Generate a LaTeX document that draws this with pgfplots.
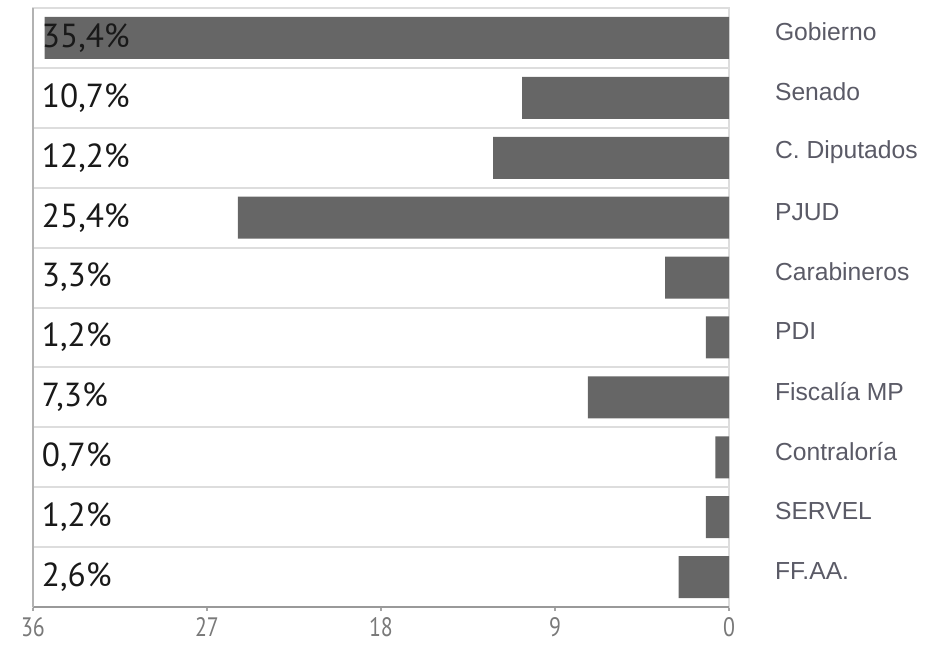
\documentclass[border=0pt]{standalone}
\usepackage{pgfplots}
\pgfplotsset{compat=1.18}
\usepackage{pgfplotstable}
\usepackage{fontspec}
\setmainfont{Liberation Sans}
\newfontfamily\catfont{Liberation Sans}
\newfontfamily\pctfont{PT Sans}
\newfontfamily\tickfont[FakeStretch=0.82]{PT Sans}
\definecolor{barc}{HTML}{666666}
\definecolor{catc}{HTML}{5A5A66}
\definecolor{sepc}{HTML}{DDDDDD}
\pgfplotstableread{
idx val px lab
0 35.4 35.55 35,4\%
1 10.7 35.55 10,7\%
2 12.2 35.55 12,2\%
3 25.4 35.55 25,4\%
4 3.3 35.55 3,3\%
5 1.2 35.55 1,2\%
6 7.3 35.55 7,3\%
7 0.7 35.55 0,7\%
8 1.2 35.55 1,2\%
9 2.6 35.55 2,6\%
}\datatable
\begin{document}
\begin{tikzpicture}[x=1pt,y=1pt]
\path[use as bounding box] (0,0) rectangle (708,483);
\begin{axis}[
  at={(24.75pt,27.75pt)}, anchor=south west,
  scale only axis, width=522pt, height=449.25pt,
  x dir=reverse, y dir=reverse,
  xmin=0, xmax=36, ymin=-0.5, ymax=9.5,
  xtick={0,9,18,27,36},
  xtick pos=bottom,
  tick align=outside, major tick length=3pt,
  xtick style={draw=gray!70, line width=0.8pt},
  ytick={0,...,9},
  yticklabels={Gobierno,Senado,C. Diputados,PJUD,Carabineros,PDI,Fiscalía MP,Contraloría,SERVEL,FF.AA.},
  yticklabel pos=right,
  ytick style={draw=none},
  yticklabel style={anchor=west, font=\catfont\fontsize{18.5}{18.5}\selectfont, text=catc, xshift=28pt, yshift=4.5pt},
  xticklabel style={font=\tickfont\fontsize{20}{20}\selectfont, text=gray!95!black, yshift=-1pt},
  /pgf/number format/assume math mode=true,
  minor ytick={0.5,1.5,...,8.5},
  yminorgrids=true,
  minor grid style={draw=sepc, line width=1.5pt},
  minor tick length=0pt,
  axis line style={draw=sepc, line width=1.2pt},
  clip=false,
]
\addplot[xbar, bar width=31.5pt, fill=barc, draw=none] table[x=val, y=idx] {\datatable};
\addplot[draw=none, mark=none, nodes near coords, point meta=explicit symbolic,
  nodes near coords style={anchor=west, inner sep=0pt, font=\pctfont\fontsize{25}{25}\selectfont, text=black!90}]
  table[x=px, y=idx, meta=lab] {\datatable};
\draw[gray!80, line width=1.2pt] (rel axis cs:0,0) -- (rel axis cs:1,0);
\draw[gray!60, line width=0.8pt] (rel axis cs:0,0) -- (rel axis cs:0,1);
\end{axis}
\end{tikzpicture}
\end{document}
